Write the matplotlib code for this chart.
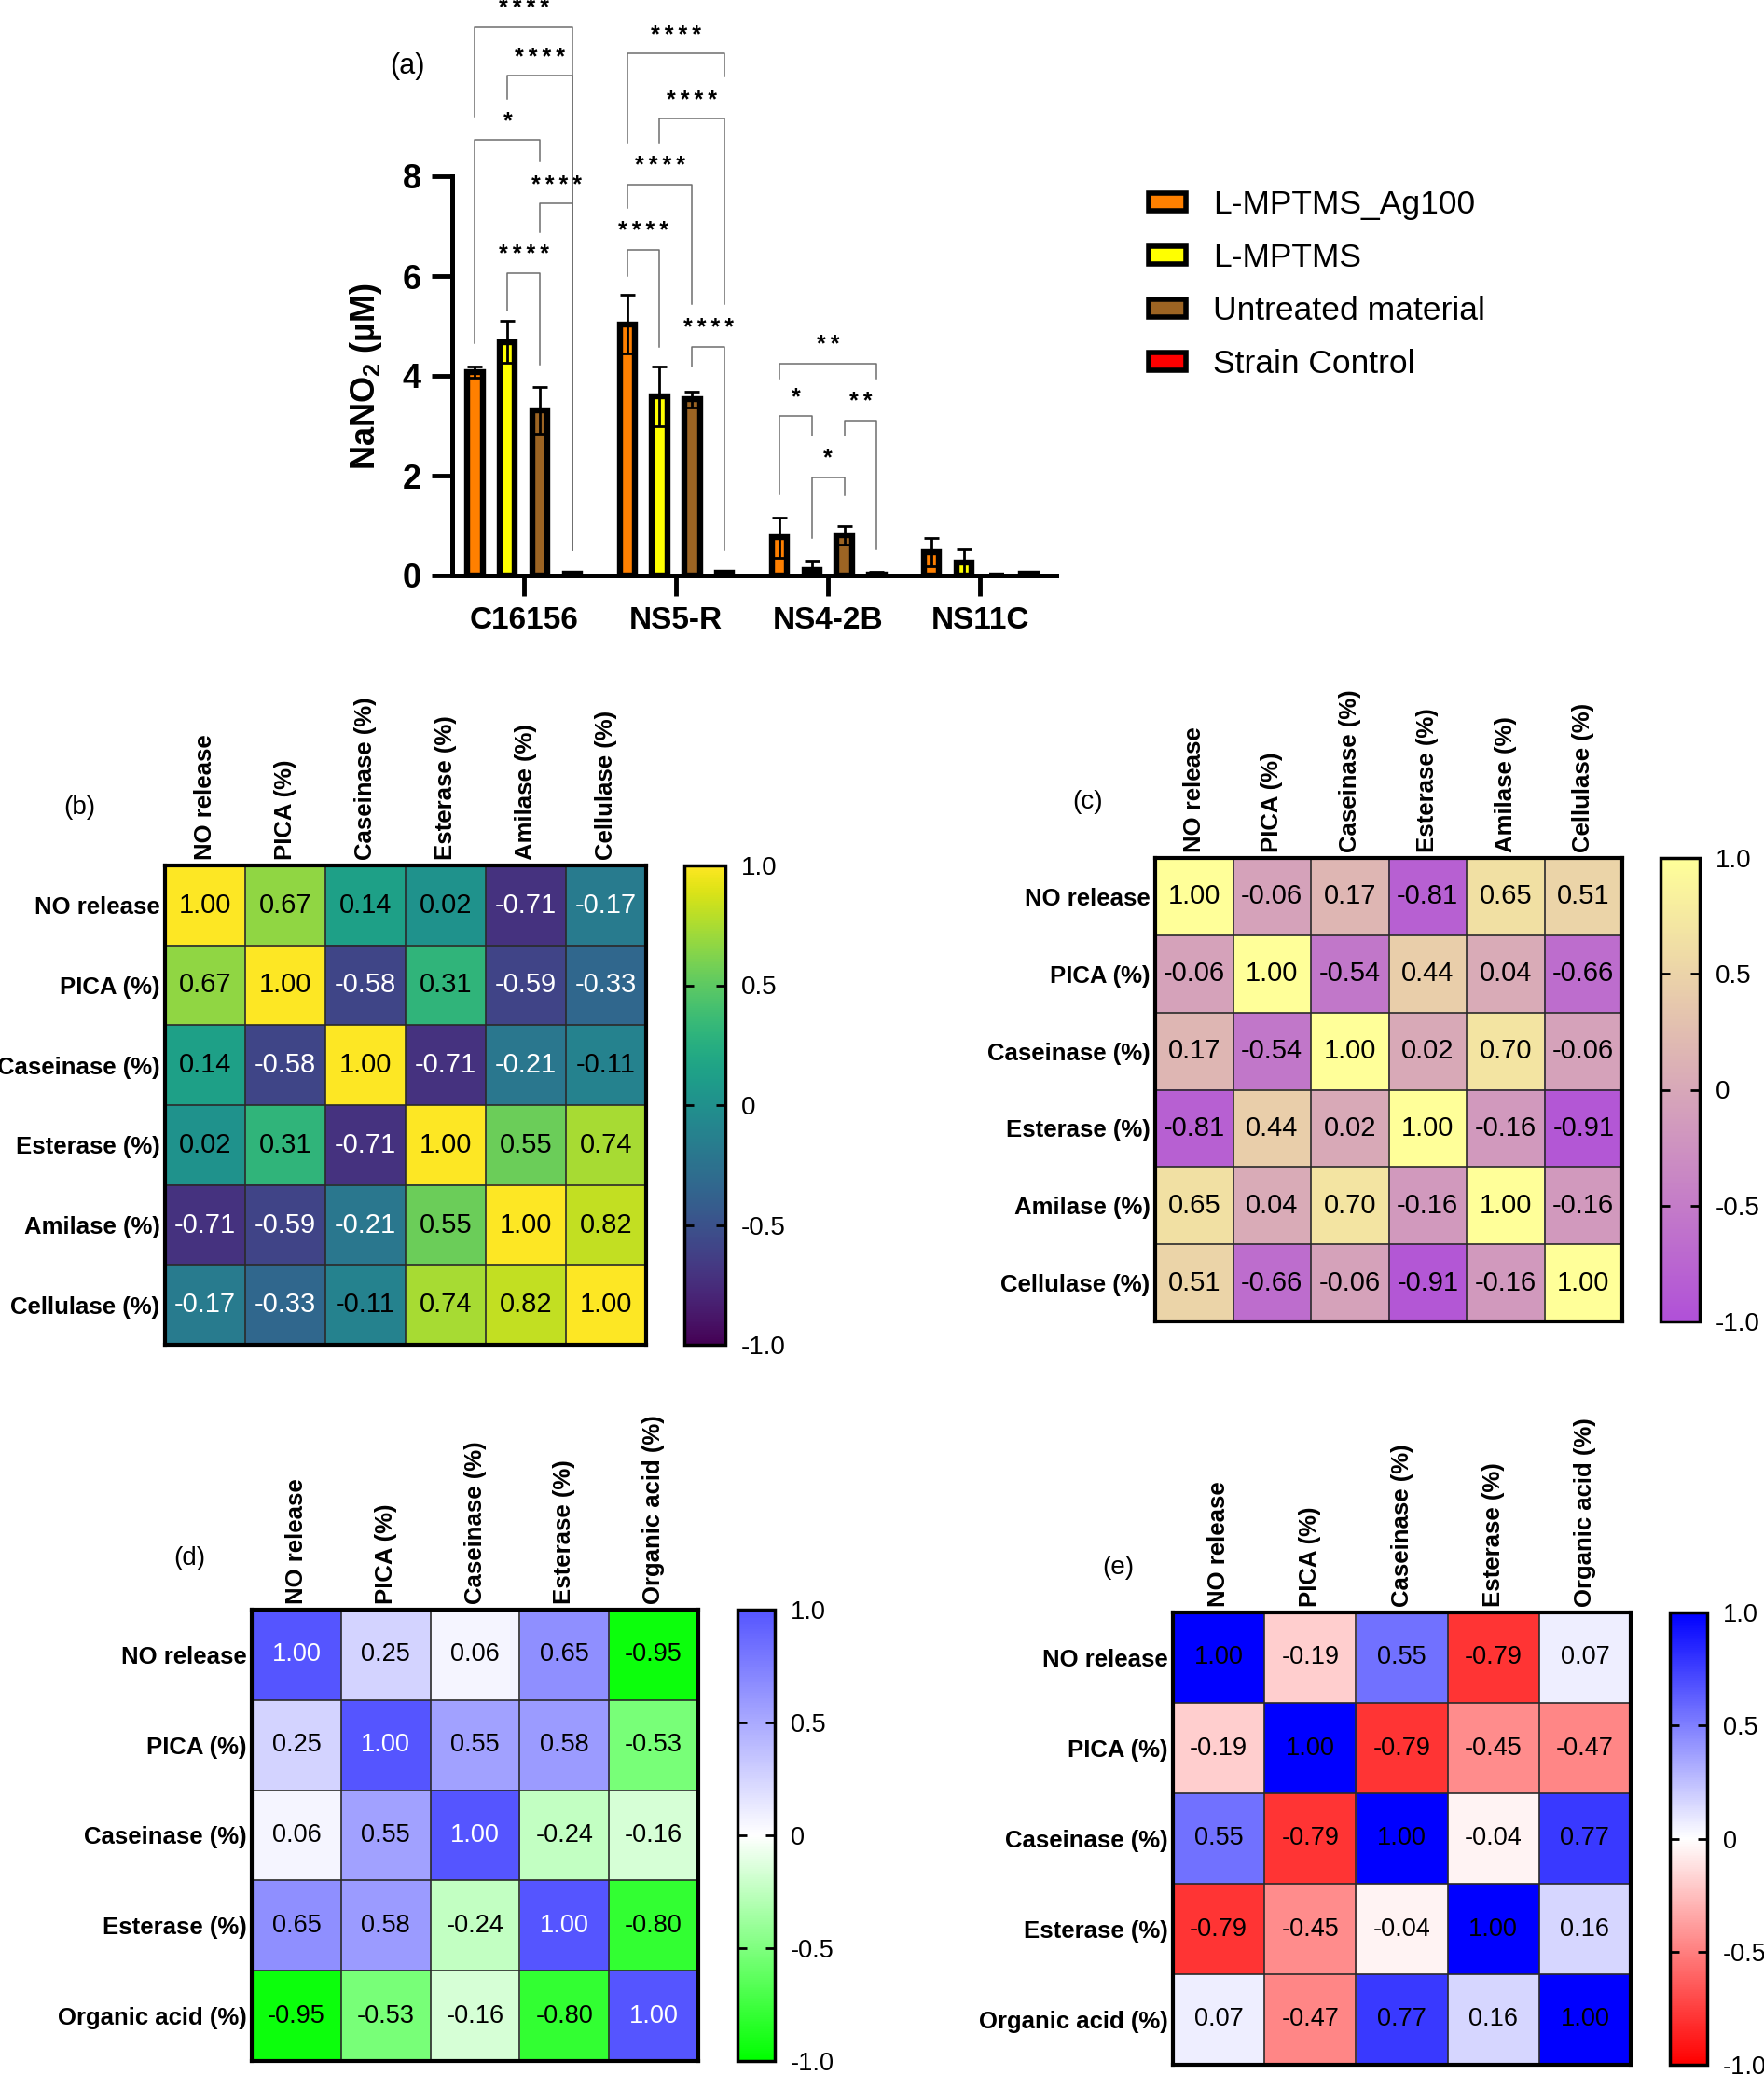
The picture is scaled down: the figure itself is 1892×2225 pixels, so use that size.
import numpy as np
import matplotlib
matplotlib.use('Agg')
import matplotlib.pyplot as plt
from matplotlib.colors import LinearSegmentedColormap
from matplotlib.patches import Patch

plt.rcParams['font.family'] = ['Liberation Sans', 'DejaVu Sans']
plt.rcParams['mathtext.default'] = 'regular'

# ---- panel (a) data ----
groups = ['C16156', 'NS5-R', 'NS4-2B', 'NS11C']
series = ['L-MPTMS_Ag100', 'L-MPTMS', 'Untreated material', 'Strain Control']
series_colors = ['#ff8000', '#ffff00', '#9c6423', '#ff0000']
ag100 = [4.07, 5.03, 0.76, 0.46]
ag100_err = [0.11, 0.59, 0.40, 0.28]
mptms = [4.68, 3.59, 0.12, 0.27]
mptms_err = [0.42, 0.59, 0.16, 0.26]
untreated = [3.31, 3.53, 0.80, 0.0]
untreated_err = [0.46, 0.16, 0.19, 0.0]
control = [0.04, 0.05, 0.02, 0.03]
control_err = [0.0, 0.0, 0.05, 0.0]

# significance brackets: group, bar i, bar j, top, left leg end, right leg end, label
brackets = [
    (0, 0, 3, 11.0, 9.19, 0.5, '****'),
    (0, 1, 3, 10.01, 9.55, 0.5, '****'),
    (0, 0, 2, 8.73, 4.66, 8.3, '*'),
    (0, 2, 3, 7.45, 6.88, 0.5, '****'),
    (0, 1, 2, 6.06, 5.31, 4.22, '****'),
    (1, 0, 3, 10.46, 8.68, 10.0, '****'),
    (1, 1, 3, 9.15, 8.68, 5.43, '****'),
    (1, 0, 2, 7.83, 7.37, 5.43, '****'),
    (1, 0, 1, 6.52, 6.0, 4.58, '****'),
    (1, 2, 3, 4.58, 4.18, 0.5, '****'),
    (2, 0, 3, 4.24, 3.94, 3.94, '**'),
    (2, 0, 1, 3.2, 1.63, 2.8, '*'),
    (2, 2, 3, 3.11, 2.8, 0.52, '**'),
    (2, 1, 2, 1.97, 0.74, 1.6, '*'),
]

# ---- heatmap data ----
labels6 = ['NO release', 'PICA (%)', 'Caseinase (%)', 'Esterase (%)', 'Amilase (%)', 'Cellulase (%)']
corr_b = [
    [1.00, 0.67, 0.14, 0.02, -0.71, -0.17],
    [0.67, 1.00, -0.58, 0.31, -0.59, -0.33],
    [0.14, -0.58, 1.00, -0.71, -0.21, -0.11],
    [0.02, 0.31, -0.71, 1.00, 0.55, 0.74],
    [-0.71, -0.59, -0.21, 0.55, 1.00, 0.82],
    [-0.17, -0.33, -0.11, 0.74, 0.82, 1.00],
]
corr_c = [
    [1.00, -0.06, 0.17, -0.81, 0.65, 0.51],
    [-0.06, 1.00, -0.54, 0.44, 0.04, -0.66],
    [0.17, -0.54, 1.00, 0.02, 0.70, -0.06],
    [-0.81, 0.44, 0.02, 1.00, -0.16, -0.91],
    [0.65, 0.04, 0.70, -0.16, 1.00, -0.16],
    [0.51, -0.66, -0.06, -0.91, -0.16, 1.00],
]
labels5 = ['NO release', 'PICA (%)', 'Caseinase (%)', 'Esterase (%)', 'Organic acid (%)']
corr_d = [
    [1.00, 0.25, 0.06, 0.65, -0.95],
    [0.25, 1.00, 0.55, 0.58, -0.53],
    [0.06, 0.55, 1.00, -0.24, -0.16],
    [0.65, 0.58, -0.24, 1.00, -0.80],
    [-0.95, -0.53, -0.16, -0.80, 1.00],
]
corr_e = [
    [1.00, -0.19, 0.55, -0.79, 0.07],
    [-0.19, 1.00, -0.79, -0.45, -0.47],
    [0.55, -0.79, 1.00, -0.04, 0.77],
    [-0.79, -0.45, -0.04, 1.00, 0.16],
    [0.07, -0.47, 0.77, 0.16, 1.00],
]

W, H = 1892, 2225
fig = plt.figure(figsize=(W / 100, H / 100), dpi=100)


def add_axes_px(x0, y0, x1, y1):
    return fig.add_axes([x0 / W, 1 - y1 / H, (x1 - x0) / W, (y1 - y0) / H])


# ================= panel (a) =================
ax = add_axes_px(485, 189, 1133, 617)
x = np.arange(len(groups))
offsets = [-0.32, -0.107, 0.107, 0.32]
bw = 0.1
all_vals = [ag100, mptms, untreated, control]
all_errs = [ag100_err, mptms_err, untreated_err, control_err]
for k in range(4):
    ax.bar(x + offsets[k], all_vals[k], width=bw, color=series_colors[k],
           edgecolor='black', linewidth=4.6, zorder=2)
    ax.errorbar(x + offsets[k], all_vals[k], yerr=all_errs[k], fmt='none',
                ecolor='black', elinewidth=2, capsize=6, capthick=2, zorder=3)

star_sep = '\u2009'
for g, i, j, top, lb, rb, lab in brackets:
    xl = g + offsets[i]
    xr = g + offsets[j]
    ax.plot([xl, xl, xr, xr], [lb, top, top, rb], color='#6e6e6e', lw=1.1,
            clip_on=False, zorder=1)
    ax.text((xl + xr) / 2, top + 0.37, star_sep.join(lab), ha='center', va='center',
            fontsize=18, fontweight='bold', clip_on=False)

ax.set_xlim(-0.47, 3.5)
ax.set_ylim(0, 8)
ax.set_yticks([0, 2, 4, 6, 8])
ax.set_xticks(x)
ax.set_xticklabels(groups, fontsize=24, fontweight='bold')
for t in ax.get_yticklabels():
    t.set_fontsize(26)
    t.set_fontweight('bold')
ax.tick_params(axis='both', length=16, width=3.5, pad=8)
ax.spines['top'].set_visible(False)
ax.spines['right'].set_visible(False)
ax.spines['left'].set_linewidth(3.6)
ax.spines['bottom'].set_linewidth(3.6)
ax.set_ylabel('NaNO$_2$ (µM)', fontsize=26, fontweight='bold', labelpad=14)
fig.text(437 / W, 1 - 71 / H, '(a)', fontsize=22, ha='center', va='center')

handles = [Patch(facecolor=c, edgecolor='black', linewidth=4) for c in series_colors]
fig.legend(handles, series, loc='center left',
           bbox_to_anchor=(1214 / W, 1 - 305 / H), frameon=False,
           fontsize=25.5, handlelength=1.15, handleheight=0.45,
           handletextpad=0.8, labelspacing=0.68, borderpad=0)


# ================= heatmaps =================
def heatmap(box, cbox, data, labels, cmap, text_color, fs_lab, fs_val, fs_cb, tag, tag_xy):
    n = len(labels)
    hax = add_axes_px(*box)
    im = hax.imshow(np.array(data), cmap=cmap, vmin=-1, vmax=1, aspect='auto',
                    extent=(0, n, n, 0), interpolation='nearest')
    for k in range(1, n):
        hax.axhline(k, color='#2a2a2a', lw=1.2)
        hax.axvline(k, color='#2a2a2a', lw=1.2)
    for r in range(n):
        for c in range(n):
            v = data[r][c]
            hax.text(c + 0.5, r + 0.5, f'{v:.2f}', ha='center', va='center',
                     fontsize=fs_val, color=text_color(v))
    hax.xaxis.tick_top()
    hax.set_xticks(np.arange(n) + 0.5)
    hax.set_xticklabels(labels, rotation=90, fontsize=fs_lab, fontweight='bold')
    hax.set_yticks(np.arange(n) + 0.5)
    hax.set_yticklabels(labels, fontsize=fs_lab, fontweight='bold')
    hax.tick_params(length=0, pad=4)
    for s in hax.spines.values():
        s.set_linewidth(3)
    cax = add_axes_px(*cbox)
    cb = fig.colorbar(im, cax=cax)
    cb.set_ticks([-1, -0.5, 0, 0.5, 1])
    cb.set_ticklabels(['-1.0', '-0.5', '0', '0.5', '1.0'])
    cb.ax.tick_params(direction='in', left=True, right=True, length=7, width=2,
                      labelsize=fs_cb, pad=12)
    cb.outline.set_linewidth(2.5)
    fig.text(tag_xy[0] / W, 1 - tag_xy[1] / H, tag, fontsize=20, ha='center', va='center')


cmap_c = LinearSegmentedColormap.from_list('pc', ['#b050d8', '#ffff99'])
cmap_d = LinearSegmentedColormap.from_list('gb', ['#00ff00', '#ffffff', '#5555ff'])
cmap_e = LinearSegmentedColormap.from_list('rb', ['#ff0000', '#ffffff', '#0000ff'])

heatmap((177, 928, 693, 1442), (734, 928, 778, 1442), corr_b, labels6, 'viridis',
        lambda v: 'white' if v < -0.15 else 'black', 18.5, 21, 20, '(b)', (85, 866))
heatmap((1239, 920, 1740, 1417), (1781, 920, 1823, 1417), corr_c, labels6, cmap_c,
        lambda v: 'black', 18.5, 21, 20, '(c)', (1167, 860))
heatmap((270, 1726, 749, 2210), (791, 1726, 831, 2210), corr_d, labels5, cmap_d,
        lambda v: 'white' if v > 0.99 else 'black', 18.5, 19.5, 19.5, '(d)', (203, 1671))
heatmap((1258, 1729, 1749, 2214), (1791, 1729, 1831, 2214), corr_e, labels5, cmap_e,
        lambda v: 'black', 18.5, 19.5, 19.5, '(e)', (1199, 1681))

fig.savefig('out.png', dpi=100)
